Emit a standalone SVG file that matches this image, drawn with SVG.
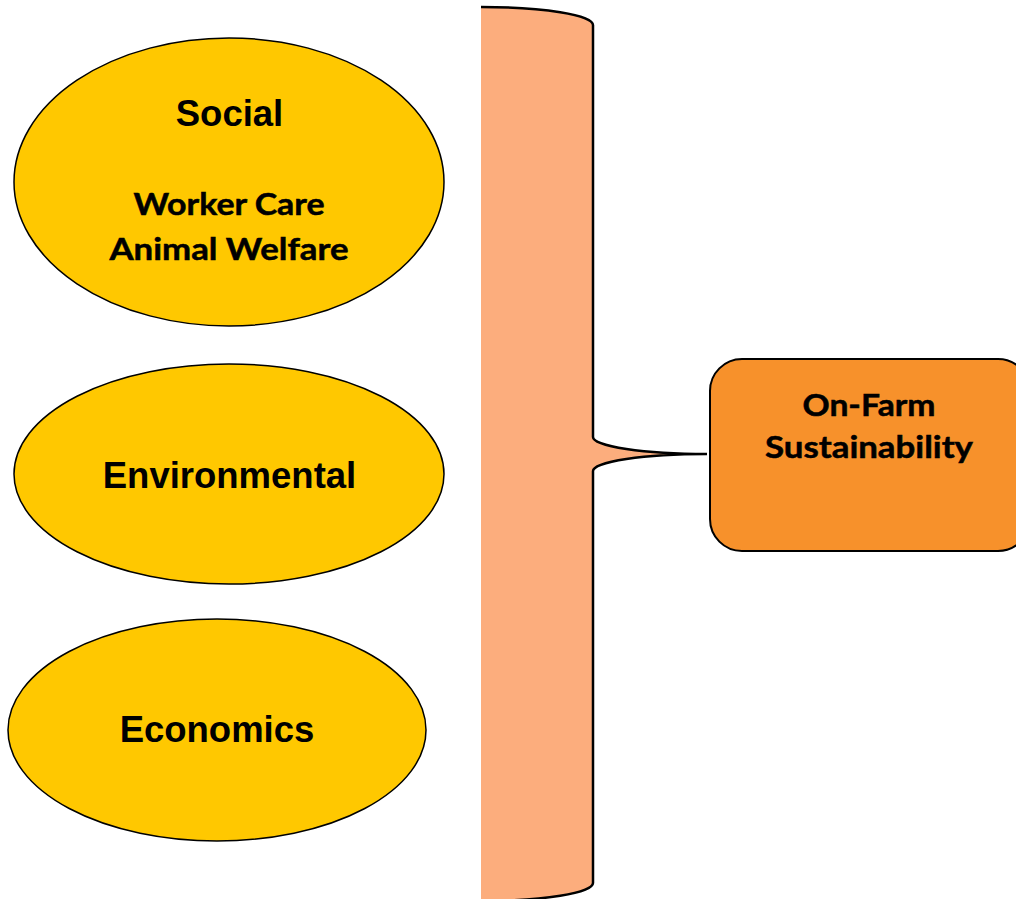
<svg xmlns="http://www.w3.org/2000/svg" width="1016" height="899" viewBox="0 0 1016 899">
<style>
.pillar{fill:#FFC800;stroke:#000;stroke-width:1.5}
.big{font-family:"Liberation Sans",Arial,sans-serif;font-weight:bold;font-size:36.5px;fill:#000;text-anchor:middle}
.small{font-family:Lato,"Open Sans",sans-serif;font-weight:bold;font-size:30px;fill:#000;stroke:#000;stroke-width:0.5;text-anchor:middle}
</style>
<rect width="1016" height="899" fill="#fff"/>
<g id="brace">
<path d="M481,7 A112,18 0 0 1 593,25 L593,437 A114,17 0 0 0 707,454 A114,17 0 0 0 593,471 L593,883 A112,18 0 0 1 481,901 Z" fill="#FCAD7D"/>
</g>
<g id="connectors">
<path d="M481,7 A112,18 0 0 1 593,25 L593,437 A114,17 0 0 0 707,454 A114,17 0 0 0 593,471 L593,883 A112,18 0 0 1 481,901" fill="none" stroke="#000" stroke-width="2.5"/>
</g>
<g id="social">
<ellipse class="pillar" cx="229" cy="182" rx="215" ry="144"/>
<text class="big" x="229.5" y="126">Social</text>
<text class="small" x="229" y="215" textLength="191" lengthAdjust="spacingAndGlyphs">Worker Care</text>
<text class="small" x="229" y="260" textLength="239" lengthAdjust="spacingAndGlyphs">Animal Welfare</text>
</g>
<g id="environmental">
<ellipse class="pillar" cx="229" cy="474" rx="215" ry="110"/>
<text class="big" x="229.5" y="488">Environmental</text>
</g>
<g id="economics">
<ellipse class="pillar" cx="217" cy="730" rx="209" ry="111"/>
<text class="big" x="217" y="742">Economics</text>
</g>
<g id="on-farm">
<rect x="710" y="359" width="320" height="192" rx="32" ry="32" fill="#F7912B" stroke="#000" stroke-width="2"/>
<text class="small" x="869" y="416" textLength="133" lengthAdjust="spacingAndGlyphs">On-Farm</text>
<text class="small" x="869" y="458" textLength="208" lengthAdjust="spacingAndGlyphs">Sustainability</text>
</g>
</svg>
